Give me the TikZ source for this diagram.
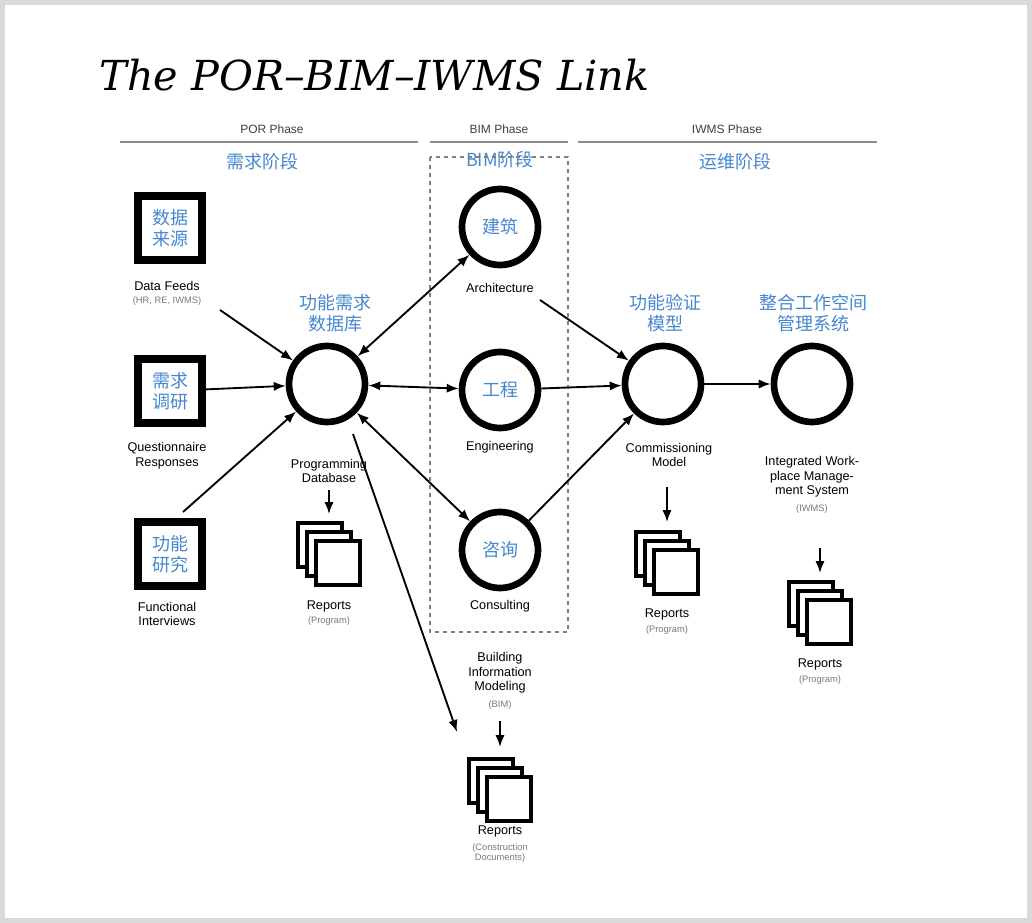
\documentclass[tikz,border=0pt]{standalone}
\usepackage{fontspec}
\setmainfont{Liberation Sans}
\newfontfamily\cjk{Noto Sans CJK SC}
\newfontfamily\ttl{DejaVu Serif}
\usetikzlibrary{arrows.meta}
\definecolor{cblue}{RGB}{70,135,205}
\definecolor{lgray}{RGB}{120,120,120}
\begin{document}
\begin{tikzpicture}[x=0.75pt,y=-0.75pt,
  sq/.style={draw,line width=5.5pt,minimum size=48pt,inner sep=0pt,font=\cjk\fontsize{13.5}{16}\selectfont,text=cblue,align=center},
  circ/.style={circle,draw,line width=5pt,minimum size=57pt,inner sep=0pt,font=\cjk\fontsize{13.5}{16}\selectfont,text=cblue},
  lab/.style={font=\fontsize{9.5}{11}\selectfont,align=center},
  sub/.style={font=\fontsize{7}{8}\selectfont,text=lgray,align=center},
  cl/.style={font=\cjk\fontsize{13.5}{16}\selectfont,text=cblue,align=center},
  ph/.style={font=\fontsize{9}{10}\selectfont,text=black!75},
  arr/.style={-{Latex[length=9pt,width=7pt]},line width=1.4pt},
  darr/.style={{Latex[length=9pt,width=7pt]}-{Latex[length=9pt,width=7pt]},line width=1.4pt},
  rep/.style={draw,line width=3.2pt,fill=white,minimum size=33pt,inner sep=0pt}]
\useasboundingbox (0,0) rectangle (1032,923);
\draw[line width=4pt,black!15] (2,2) rectangle (1030,921);
\node[font=\ttl\itshape\fontsize{31}{34}\selectfont,anchor=west] (title) at (95,75) {The POR–BIM–IWMS Link};
% phases
\draw[black!45,line width=1pt] (120,142) -- (418,142);
\draw[black!45,line width=1pt] (430,142) -- (568,142);
\draw[black!45,line width=1pt] (578,142) -- (877,142);
\node[ph] (p1) at (272,129) {POR Phase};
\node[ph] (p2) at (499,129) {BIM Phase};
\node[ph] (p3) at (727,129) {IWMS Phase};
\node[cl] (c1) at (262,162) {需求阶段};
\node[cl] (c2) at (500,160) {BIM阶段};
\node[cl] (c3) at (735,162) {运维阶段};
\draw[dashed,black!50,line width=0.8pt] (430,157) rectangle (568,632);
% squares
\node[sq] (s1) at (170,228) {数据\\来源};
\node[sq] (s2) at (170,391) {需求\\调研};
\node[sq] (s3) at (170,554) {功能\\研究};
\node[lab] (l1) at (167,286) {Data Feeds};
\node[sub] (l1b) at (167,301) {(HR, RE, IWMS)};
\node[lab] (l2) at (167,456) {Questionnaire\\Responses};
\node[lab] (l3) at (167,614) {Functional\\Interviews};
% circles
\node[circ] (db) at (327,384) {};
\node[circ] (ar) at (500,227) {建筑};
\node[circ] (en) at (500,390) {工程};
\node[circ] (co) at (500,550) {咨询};
\node[circ] (cm) at (663,384) {};
\node[circ] (iw) at (812,384) {};
\node[cl] (cdb) at (335,313) {功能需求\\数据库};
\node[cl] (ccm) at (665,313) {功能验证\\模型};
\node[cl] (ciw) at (813,313) {整合工作空间\\管理系统};
\node[lab] (ldb) at (329,471) {Programming\\Database};
\node[lab] (lar) at (500,288) {Architecture};
\node[lab] (len) at (500,447) {Engineering};
\node[lab] (lco) at (500,606) {Consulting};
\node[lab] (lcm) at (669,455) {Commissioning\\Model};
\node[lab] (liw) at (812,477) {Integrated Work-\\place Manage-\\ment System};
\node[sub] (liwb) at (812,509) {(IWMS)};
\node[lab] (lbim) at (500,673) {Building\\Information\\Modeling};
\node[sub] (lbimb) at (500,705) {(BIM)};
% arrows
\coordinate (a1) at (220,310);
\coordinate (a3) at (183,512);
\draw[arr] (a1) -- (db);
\draw[arr] (s2) -- (db);
\draw[arr] (a3) -- (db);
\draw[darr] (db) -- (ar);
\draw[darr] (db) -- (en);
\draw[darr] (db) -- (co);
\coordinate (b1) at (540,300);
\draw[arr] (b1) -- (cm);
\draw[arr] (en) -- (cm);
\draw[arr] (co) -- (cm);
\draw[arr] (cm) -- (iw);
% reports
\newcommand{\repstack}[3]{%
 \node[rep] (#1a) at (#2-9,#3-9) {};
 \node[rep] (#1b) at (#2,#3) {};
 \node[rep] (#1c) at (#2+9,#3+9) {};}
\repstack{r1}{329}{554}
\repstack{r2}{667}{563}
\repstack{r3}{820}{613}
\repstack{r4}{500}{790}
\draw[arr] (329,490) -- (329,514);
\draw[arr] (667,487) -- (667,522);
\draw[arr] (820,548) -- (820,573);
\draw[arr] (500,721) -- (500,747);
\coordinate (d0) at (353,434);
\draw[arr] (d0) -- (457,732);
\node[lab] (rl1) at (329,606) {Reports};
\node[sub] (rl1b) at (329,621) {(Program)};
\node[lab] (rl2) at (667,614) {Reports};
\node[sub] (rl2b) at (667,630) {(Program)};
\node[lab] (rl3) at (820,664) {Reports};
\node[sub] (rl3b) at (820,680) {(Program)};
\node[lab] (rl4) at (500,831) {Reports};
\node[sub] (rl4b) at (500,853) {(Construction\\Documents)};
\end{tikzpicture}
\end{document}
